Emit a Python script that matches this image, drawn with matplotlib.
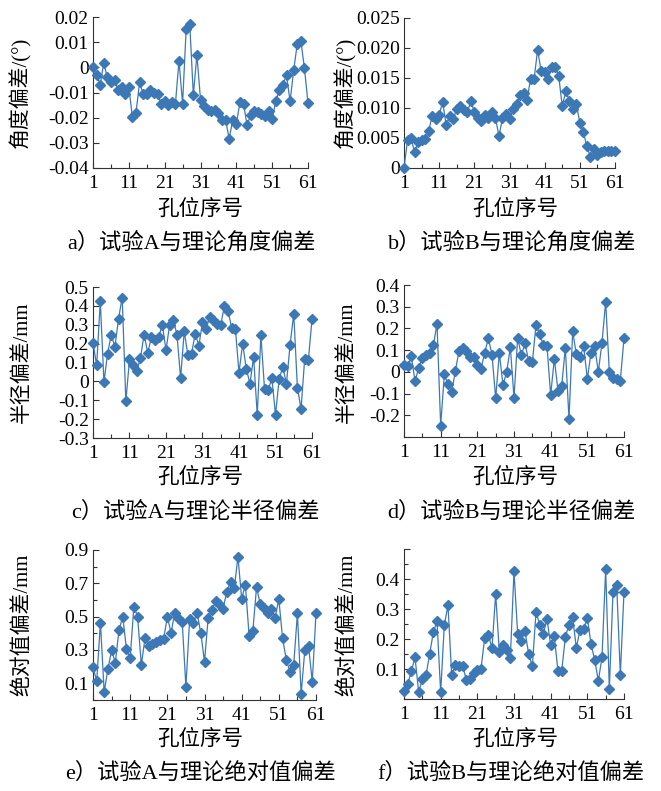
import numpy as np
import matplotlib.pyplot as plt
from matplotlib.ticker import FixedLocator

plt.rcParams['axes.unicode_minus'] = False
plt.rcParams['font.family'] = ['Liberation Serif', 'Noto Sans CJK SC']

# 试验A / 试验B 与理论值的偏差，孔位 1..61
angle_a = [0, -0.003, -0.007, 0.0017, -0.004, -0.006, -0.005, -0.009, -0.008, -0.0106,
           -0.008, -0.0198, -0.018, -0.006, -0.0106, -0.0106, -0.009, -0.010, -0.0106, -0.0145,
           -0.0135, -0.015, -0.0137, -0.0145, 0.0026, -0.0145, 0.0153, 0.0173, -0.011, 0.005,
           -0.0128, -0.0155, -0.0168, -0.0175, -0.0168, -0.018, -0.021, -0.021, -0.0283, -0.021,
           -0.0225, -0.0139, -0.0145, -0.023, -0.0188, -0.0172, -0.0179, -0.0185, -0.0194, -0.0172,
           -0.0204, -0.0135, -0.0089, -0.0069, -0.0032, -0.0135, -0.0012, 0.0093, 0.0106, -0.0003,
           -0.0142]
angle_b = [0, 0.0046, 0.005, 0.0026, 0.0044, 0.0047, 0.0048, 0.0062, 0.0086, 0.0082,
           0.0089, 0.011, 0.0071, 0.0087, 0.0081, 0.0099, 0.0104, 0.0096, 0.0093, 0.0111,
           0.0094, 0.0084, 0.0079, 0.0088, 0.0083, 0.0094, 0.0084, 0.0053, 0.0083, 0.009,
           0.0081, 0.0098, 0.0106, 0.0121, 0.0125, 0.0114, 0.0149, 0.0149, 0.0197, 0.0161,
           0.016, 0.0149, 0.0168, 0.0169, 0.0153, 0.0103, 0.0128, 0.0112, 0.0099, 0.0107,
           0.0075, 0.006, 0.0036, 0.0019, 0.0031, 0.0022, 0.0027, 0.0028, 0.0028, 0.0028, 0.0029]
radius_a = [0.204, 0.085, 0.425, -0.004, 0.147, 0.248, 0.182, 0.333, 0.444, -0.106,
            0.117, 0.088, 0.053, 0.124, 0.248, 0.150, 0.234, 0.218, 0.235, 0.30,
            0.165, 0.30, 0.327, 0.248, 0.018, 0.265, 0.138, 0.147, 0.253, 0.188,
            0.315, 0.28, 0.342, 0.324, 0.306, 0.30, 0.400, 0.372, 0.283, 0.280,
            0.046, 0.200, 0.067, -0.012, 0.129, -0.177, 0.244, -0.042, -0.048, 0.018,
            -0.177, 0.012, 0.077, -0.012, 0.195, 0.359, -0.035, -0.145, 0.120, 0.113, 0.329]
radius_b = [0.030, 0.026, 0.072, -0.043, 0.018, 0.064, 0.076, 0.087, 0.122, 0.221,
            -0.248, -0.012, -0.055, -0.093, 0.003, 0.097, 0.110, 0.097, 0.067, 0.067,
            0.033, 0.015, 0.087, 0.155, 0.079, -0.122, 0.087, -0.061, 0.0, 0.113,
            -0.119, 0.158, 0.076, 0.132, 0.049, 0.044, 0.216, 0.174, 0.122, 0.117,
            -0.107, 0.061, -0.088, -0.065, 0.110, -0.218, 0.186, 0.082, 0.067, 0.117,
            -0.032, 0.087, 0.117, 0.0, 0.135, 0.323, 0.0, -0.030, -0.032, -0.040, 0.155]
abs_a = [0.196, 0.115, 0.464, 0.049, 0.184, 0.298, 0.225, 0.419, 0.50, 0.306,
         0.251, 0.561, 0.50, 0.210, 0.372, 0.326, 0.338, 0.346, 0.358, 0.366,
         0.50, 0.403, 0.524, 0.494, 0.468, 0.079, 0.484, 0.464, 0.524, 0.403,
         0.231, 0.494, 0.540, 0.595, 0.575, 0.549, 0.650, 0.711, 0.670, 0.858,
         0.609, 0.690, 0.387, 0.413, 0.676, 0.575, 0.555, 0.524, 0.549, 0.494,
         0.605, 0.372, 0.241, 0.170, 0.211, 0.520, 0.034, 0.302, 0.322, 0.109, 0.520]
abs_b = [0.028, 0.050, 0.092, 0.139, 0.023, 0.067, 0.079, 0.150, 0.223, 0.259,
         0.022, 0.248, 0.312, 0.079, 0.114, 0.109, 0.109, 0.064, 0.068, 0.087,
         0.098, 0.101, 0.203, 0.214, 0.170, 0.350, 0.157, 0.181, 0.164, 0.137,
         0.426, 0.217, 0.194, 0.226, 0.150, 0.109, 0.290, 0.248, 0.217, 0.268,
         0.179, 0.209, 0.092, 0.092, 0.206, 0.248, 0.272, 0.170, 0.231, 0.234,
         0.270, 0.183, 0.131, 0.061, 0.139, 0.434, 0.034, 0.357, 0.381, 0.081, 0.357]

xlabel = '孔位序号'
captions = ['a）试验A与理论角度偏差', 'b）试验B与理论角度偏差',
            'c）试验A与理论半径偏差', 'd）试验B与理论半径偏差',
            'e）试验A与理论绝对值偏差', 'f）试验B与理论绝对值偏差']
ylabels = ['角度偏差/(°)', '角度偏差/(°)', '半径偏差/mm', '半径偏差/mm',
           '绝对值偏差/mm', '绝对值偏差/mm']

W, H = 661, 791
blue = '#3d78b6'


def box(l, t, r, b):
    return [l / W, 1 - b / H, (r - l) / W, (b - t) / H]


fig = plt.figure(figsize=(W / 100, H / 100), dpi=100)

specs = [
    (angle_a, box(93, 17, 308, 168), (-0.04, 0.02),
     [0.02, 0.01, 0, -0.01, -0.02, -0.03, -0.04],
     ['0.02', '0.01', '0', '-0.01', '-0.02', '-0.03', '-0.04'], None),
    (angle_b, box(404, 18, 615, 168), (0, 0.025),
     [0, 0.005, 0.01, 0.015, 0.02, 0.025],
     ['0', '0.005', '0.010', '0.015', '0.020', '0.025'], None),
    (radius_a, box(93, 287, 312, 438), (-0.3, 0.5),
     [0.5, 0.4, 0.3, 0.2, 0.1, 0, -0.1, -0.2, -0.3],
     ['0.5', '0.4', '0.3', '0.2', '0.1', '0', '-0.1', '-0.2', '-0.3'], None),
    (radius_b, box(404, 285, 624, 437), (-0.3, 0.4),
     [0.4, 0.3, 0.2, 0.1, 0, -0.1, -0.2, -0.3],
     ['0.4', '0.3', '0.2', '0.1', '0', '-0.1', '-0.2', ''], None),
    (abs_a, box(93, 550, 316, 700), (0, 0.9),
     [0.9, 0.7, 0.5, 0.3, 0.1],
     ['0.9', '0.7', '0.5', '0.3', '0.1'], [0.8, 0.6, 0.4, 0.2, 0]),
    (abs_b, box(404, 549, 624, 699), (0, 0.5),
     [0.5, 0.4, 0.3, 0.2, 0.1, 0],
     ['', '0.4', '0.3', '0.2', '0.1', ''], [0.45, 0.35, 0.25, 0.15, 0.05]),
]

ylab_pos = [(20, 92), (345, 92), (22, 362), (347, 362), (22, 625), (347, 625)]
xlab_pos = [(200, 210), (515, 210), (200, 478), (515, 478), (200, 740), (515, 740)]
cap_pos = [(191, 243), (512, 243), (195, 512), (511, 512), (200, 773), (511, 773)]

for k, (vals, rect, ylim, yt, ytl, yminor) in enumerate(specs):
    ax = fig.add_axes(rect)
    x = np.arange(1, len(vals) + 1)
    ax.plot(x, vals, '-', color=blue, lw=0.9, marker='D', ms=5.3,
            mfc=blue, mec=blue, clip_on=False, zorder=3)
    ax.set_xlim(1, 61)
    ax.set_ylim(*ylim)
    ax.set_xticks([1, 11, 21, 31, 41, 51, 61])
    ax.xaxis.set_minor_locator(FixedLocator([6, 16, 26, 36, 46, 56]))
    ax.set_yticks(yt, ytl)
    if yminor:
        ax.yaxis.set_minor_locator(FixedLocator(yminor))
    for s in ['top', 'right']:
        ax.spines[s].set_visible(False)
    for s in ['left', 'bottom']:
        ax.spines[s].set_color('#333333')
        ax.spines[s].set_linewidth(0.8)
    ax.tick_params(which='both', direction='in', color='#333333', width=0.8)
    ax.tick_params(which='major', length=4, labelsize=14, pad=3)
    ax.tick_params(axis='x', which='major', pad=5)
    ax.tick_params(which='minor', length=3)
    ax.patch.set_alpha(0)

    fig.text(ylab_pos[k][0] / W, 1 - ylab_pos[k][1] / H, ylabels[k],
             rotation=90, ha='center', va='center', fontsize=15)
    fig.text(xlab_pos[k][0] / W, 1 - xlab_pos[k][1] / H, xlabel,
             ha='center', va='center', fontsize=15.5)
    fig.text(cap_pos[k][0] / W, 1 - cap_pos[k][1] / H, captions[k],
             ha='center', va='center', fontsize=16)

fig.savefig('out.png', dpi=100)
